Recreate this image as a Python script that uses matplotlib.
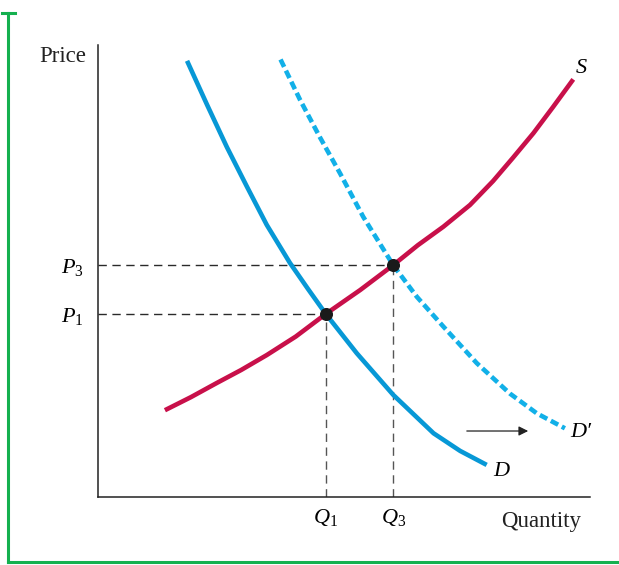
import matplotlib
matplotlib.use("Agg")
import matplotlib.pyplot as plt
from matplotlib.lines import Line2D

plt.rcParams["font.family"] = ["Liberation Serif", "DejaVu Serif"]
plt.rcParams["mathtext.fontset"] = "custom"
plt.rcParams["mathtext.rm"] = "Liberation Serif"
plt.rcParams["mathtext.it"] = "Liberation Serif:italic"

# ---- data (quantity / price on a 0-100 scale) ----
supply_q = [13.6, 18.9, 24.1, 29.1, 34.3, 40.2, 46.3, 53.3, 60.0, 65.0, 70.2,
            75.6, 80.3, 84.3, 88.5, 92.5, 96.6]
supply_p = [19.2, 22.1, 25.2, 28.1, 31.4, 35.5, 40.5, 45.8, 51.3, 55.7, 59.8,
            64.6, 69.9, 75.0, 80.5, 86.3, 92.4]

demand_q = [18.1, 22.2, 26.2, 30.3, 34.3, 39.0, 42.7, 46.3, 52.6, 60.0, 68.2, 73.6, 79.0]
demand_p = [96.5, 86.7, 77.4, 68.6, 60.2, 51.8, 46.0, 40.5, 31.8, 22.6, 14.1, 10.2, 7.1]

demand2_q = [37.1, 41.1, 45.1, 49.2, 53.9, 60.0, 64.8, 70.2, 77.0, 83.7, 89.2, 94.9]
demand2_p = [96.8, 87.8, 79.6, 71.6, 62.0, 51.3, 44.3, 37.7, 29.6, 22.9, 18.5, 15.2]

eq_q = [46.3, 60.0]
eq_p = [40.5, 51.3]
q_labels = ["$Q_1$", "$Q_3$"]
p_labels = ["$P_1$", "$P_3$"]

RED = "#c8104a"
BLUE = "#0798d6"
LBLUE = "#12b0e8"
GREEN = "#14b04f"
INK = "#222222"

fig = plt.figure(figsize=(6.19, 5.65), dpi=100)
W, H = 619, 565
ax = fig.add_axes([98 / W, (H - 497) / H, (590 - 98) / W, (497 - 45) / H])
ax.set_xlim(0, 100)
ax.set_ylim(0, 100)
for s in ("top", "right"):
    ax.spines[s].set_visible(False)
for s in ("left", "bottom"):
    ax.spines[s].set_linewidth(1.1)
    ax.spines[s].set_color(INK)

# guide lines to the axes
for q, p in zip(eq_q, eq_p):
    ax.plot([0, q], [p, p], ls=(0, (6, 4)), color="#2a2a2a", lw=1.0, zorder=1)
    ax.plot([q, q], [0, p], ls=(0, (6, 4)), color="#555555", lw=1.0, zorder=1)

ax.plot(demand_q, demand_p, color=BLUE, lw=3.3, solid_capstyle="butt",
        solid_joinstyle="round", zorder=2)
ax.plot(demand2_q, demand2_p, color=LBLUE, lw=3.3, ls=(0, (1.8, 0.9)),
        dash_capstyle="butt", zorder=2)
ax.plot(supply_q, supply_p, color=RED, lw=3.3, solid_capstyle="butt",
        solid_joinstyle="round", zorder=3)
ax.scatter(eq_q, eq_p, s=70, color="#1a1a1a", zorder=4)

ax.annotate("", xy=(88.0, 14.6), xytext=(74.4, 14.6),
            arrowprops=dict(arrowstyle="-|>", color=INK, lw=0.9,
                            mutation_scale=14))

ax.set_xticks(eq_q)
ax.set_xticklabels(q_labels, fontsize=16)
ax.set_yticks(eq_p)
ax.set_yticklabels(p_labels, fontsize=16)
ax.tick_params(length=0)
ax.tick_params(axis="y", pad=10)
ax.tick_params(axis="x", pad=7)

ax.text(-7.1, 96.2, "Price", fontsize=16.5, ha="center", va="baseline", color=INK)
ax.text(90.0, -6.7, "Quantity", fontsize=16.5, ha="center", va="baseline", color=INK)
ax.text(97.0, 93.8, "$S$", fontsize=16, ha="left", va="baseline")
ax.text(80.3, 4.6, "$D$", fontsize=16, ha="left", va="baseline")
ax.text(95.9, 13.3, "D\u2032", fontsize=16, fontstyle="italic", ha="left", va="baseline")

# green frame at left and bottom
def px(x, y):
    return x / W, 1 - y / H

for (x0, y0), (x1, y1) in [((8, 13), (8, 562)), ((8, 562), (619, 562)),
                           ((2, 13), (15, 13))]:
    a, b = px(x0, y0)
    c, d = px(x1, y1)
    fig.add_artist(Line2D([a, c], [b, d], color=GREEN, lw=2.2,
                          transform=fig.transFigure))

fig.savefig("out.png", dpi=100)
